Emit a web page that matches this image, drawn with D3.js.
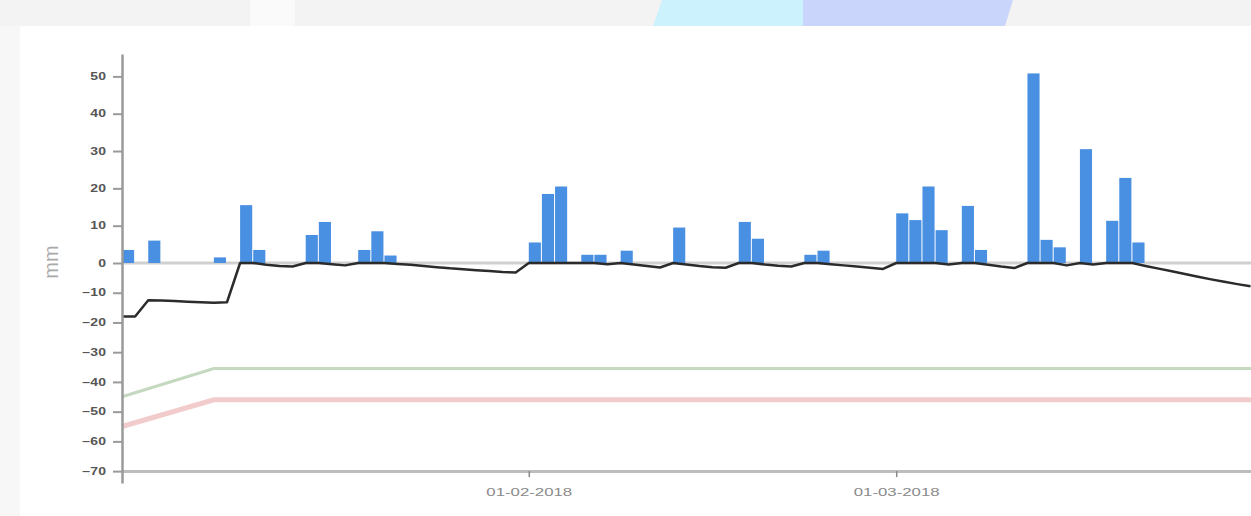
<!DOCTYPE html>
<html>
<head>
<meta charset="utf-8">
<script src="https://cdn.jsdelivr.net/npm/d3@7"></script>
<style>
  body { margin: 0; background: #fff; overflow: hidden; }
  svg { display: block; font-family: "Liberation Sans", Arial, sans-serif; }
  .y-axis .tick text { transform-box: fill-box; transform-origin: right center; transform: scaleX(1.4); }
  .x-axis .tick text { transform-box: fill-box; transform-origin: center center; transform: scaleX(1.6); }
</style>
</head>
<body>
<svg id="chart"></svg>
<script>
// daily rainfall (mm)
var rainDates = ["2018-01-01", "2018-01-03", "2018-01-08", "2018-01-10", "2018-01-11", "2018-01-15", "2018-01-16",
  "2018-01-19", "2018-01-20", "2018-01-21", "2018-02-01", "2018-02-02", "2018-02-03", "2018-02-05", "2018-02-06",
  "2018-02-08", "2018-02-12", "2018-02-17", "2018-02-18", "2018-02-22", "2018-02-23", "2018-03-01", "2018-03-02",
  "2018-03-03", "2018-03-04", "2018-03-06", "2018-03-07", "2018-03-11", "2018-03-12", "2018-03-13", "2018-03-15",
  "2018-03-17", "2018-03-18", "2018-03-19"];
var rainValues = [3.5, 6, 1.5, 15.5, 3.5, 7.5, 11, 3.5, 8.5, 2, 5.5, 18.5, 20.5, 2.2, 2.2,
  3.3, 9.5, 11, 6.5, 2.2, 3.3, 13.3, 11.5, 20.5, 8.8, 15.3, 3.5, 50.8, 6.2, 4.2, 30.5,
  11.3, 22.8, 5.5];

// soil water balance, one value per day from 01-01-2018
var balanceStart = "2018-01-01";
var balanceValues = [-18, -18, -12.5, -12.6, -12.8, -13, -13.2, -13.4, -13.2, 0,
  0, -0.6, -1, -1.2, 0, 0, -0.4, -0.8, 0, 0,
  0, -0.3, -0.6, -1, -1.4, -1.8, -2.1, -2.4, -2.7, -3,
  -3.2, 0, 0, 0, 0, 0, 0, -0.4, 0, -0.5,
  -1, -1.5, 0, -0.5, -1, -1.4, -1.6, 0, 0, -0.5,
  -0.9, -1.2, 0, 0, -0.4, -0.8, -1.2, -1.6, -2, 0,
  0, 0, 0, -0.5, 0, 0, -0.6, -1.2, -1.7, 0,
  0, 0, -0.8, 0, -0.5, 0, 0, 0, -1, -1.9,
  -2.8, -3.7, -4.6, -5.5, -6.3, -7.1, -7.8];

// threshold lines
var warnDates = ["2018-01-01", "2018-01-08", "2018-03-31"];
var warnValues = [-45, -35.5, -35.5];
var alarmDates = ["2018-01-01", "2018-01-08", "2018-03-31"];
var alarmValues = [-55, -46, -46];

var yTicks = [-70, -60, -50, -40, -30, -20, -10, 0, 10, 20, 30, 40, 50];
var xTicks = ["2018-02-01", "2018-03-01"];

var parseDate = d3.timeParse("%Y-%m-%d");

function chartDisplay() {
  var svgWidth = 1251;
  var svgHeight = 516;
  var svg = d3.select("#chart").attr("width", svgWidth).attr("height", svgHeight);

  // page background strip at the top
  svg.append("rect").attr("x", 0).attr("y", 0).attr("width", svgWidth).attr("height", 26).attr("fill", "#f3f3f3");
  svg.append("rect").attr("x", 0).attr("y", 26).attr("width", 20).attr("height", svgHeight - 26).attr("fill", "#f7f7f7");
  svg.append("rect").attr("x", 250).attr("y", 0).attr("width", 45).attr("height", 26).attr("fill", "#fafafa");
  svg.append("polygon").attr("points", "662,0 803,0 803,26 653,26").attr("fill", "#ccf2fd");
  svg.append("polygon").attr("points", "803,0 1013,0 1005,26 803,26").attr("fill", "#c9d5fb");

  var x = d3.scaleTime()
    .domain([parseDate("2018-01-01"), parseDate("2018-04-01")])
    .range([122, 1303]);

  var y = d3.scaleLinear()
    .domain([-74, 0, 56])
    .range([483, 263, 54]);

  var line = d3.line()
    .x(function (d) { return x(d.date); })
    .y(function (d) { return y(d.value); });

  // zero line
  svg.append("line")
    .attr("x1", x.range()[0]).attr("x2", x.range()[1])
    .attr("y1", y(0)).attr("y2", y(0))
    .attr("stroke", "#d0d0d0").attr("stroke-width", 3);

  var warnData = warnDates.map(function (d, i) { return { date: parseDate(d), value: warnValues[i] }; });
  var alarmData = alarmDates.map(function (d, i) { return { date: parseDate(d), value: alarmValues[i] }; });

  svg.append("path").datum(warnData).attr("d", line)
    .attr("fill", "none").attr("stroke", "#c4d9c0").attr("stroke-width", 3);
  svg.append("path").datum(alarmData).attr("d", line)
    .attr("fill", "none").attr("stroke", "#f2cccc").attr("stroke-width", 5);

  // rain bars
  var rainData = rainDates.map(function (d, i) { return { date: parseDate(d), value: rainValues[i] }; });
  svg.selectAll("rect.rain")
    .data(rainData)
    .enter()
    .append("rect")
    .attr("class", "rain")
    .attr("x", function (d) { return x(d.date); })
    .attr("y", function (d) { return y(d.value); })
    .attr("width", function (d) { return x(d3.timeDay.offset(d.date, 1)) - x(d.date) - 1; })
    .attr("height", function (d) { return y(0) - y(d.value); })
    .attr("fill", "#4a90e2");

  // water balance line
  var start = parseDate(balanceStart);
  var balanceData = balanceValues.map(function (v, i) { return { date: d3.timeDay.offset(start, i), value: v }; });
  svg.append("path").datum(balanceData).attr("d", line)
    .attr("fill", "none").attr("stroke", "#2b2b2b").attr("stroke-width", 2.5).attr("stroke-linejoin", "round");

  // axes
  var xAxis = svg.append("g")
    .attr("class", "x-axis")
    .attr("transform", "translate(0," + y(-70) + ")")
    .call(d3.axisBottom(x)
      .tickValues(xTicks.map(parseDate))
      .tickFormat(d3.timeFormat("%d-%m-%Y"))
      .tickSize(6)
      .tickSizeOuter(0)
      .tickPadding(11));
  xAxis.select(".domain").attr("stroke", "#bdbdbd").attr("stroke-width", 3);
  xAxis.selectAll(".tick line").attr("stroke", "#888").attr("stroke-width", 1.5);
  xAxis.selectAll(".tick text").attr("fill", "#8a8a8a").attr("font-size", 10.5);

  var yAxis = svg.append("g")
    .attr("class", "y-axis")
    .attr("transform", "translate(122,0)")
    .call(d3.axisLeft(y)
      .tickValues(yTicks)
      .tickSize(9)
      .tickSizeOuter(0)
      .tickPadding(7));
  yAxis.select(".domain").attr("stroke", "#9a9a9a").attr("stroke-width", 2.5);
  yAxis.selectAll(".tick line").attr("stroke", "#9a9a9a").attr("stroke-width", 2);
  yAxis.selectAll(".tick text").attr("fill", "#555").attr("font-size", 10).attr("font-weight", "bold");

  svg.append("text")
    .attr("transform", "translate(58,262) rotate(-90)")
    .attr("text-anchor", "middle")
    .attr("font-size", 20)
    .attr("fill", "#aaa")
    .text("mm");
}

chartDisplay();
</script>
</body>
</html>
